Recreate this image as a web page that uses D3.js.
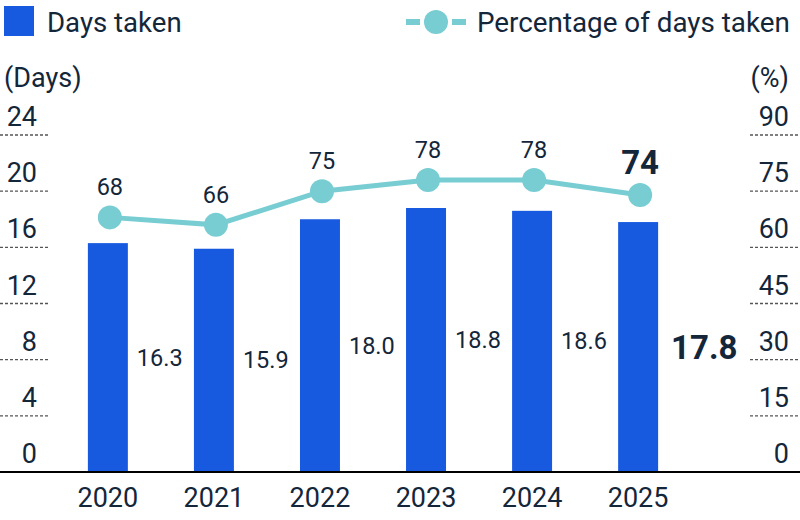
<!DOCTYPE html>
<html>
<head>
<meta charset="utf-8">
<script src="https://cdn.jsdelivr.net/npm/d3@7"></script>
<style>
  body { margin: 0; background: #fff; }
  text { font-family: Roboto, sans-serif; fill: #14263a; }
</style>
</head>
<body>
<div id="chart"></div>
<script>
const years = ["2020", "2021", "2022", "2023", "2024", "2025"];
const daysTaken = [16.3, 15.9, 18.0, 18.8, 18.6, 17.8];
const pctTaken = [68, 66, 75, 78, 78, 74];
const dayTicks = [0, 4, 8, 12, 16, 20, 24];
const pctTicks = [0, 15, 30, 45, 60, 75, 90];

const blue = "#175ae0";
const teal = "#78cdd3";

const width = 800, height = 520;
const baseY = 472, topY = 135;

const svg = d3.select("#chart").append("svg")
  .attr("width", width)
  .attr("height", height);

const x = d3.scaleBand().domain(years).range([55, 691]).paddingInner(0.623).paddingOuter(0.31);
const yL = d3.scaleLinear().domain([0, 24]).range([baseY, topY]);
const yR = d3.scaleLinear().domain([0, 90]).range([baseY, topY]);

// gridline stubs on both sides
dayTicks.filter(d => d > 0).forEach(d => {
  [[0, 50], [750, 800]].forEach(([a, b]) => {
    svg.append("line")
      .attr("x1", a).attr("x2", b)
      .attr("y1", yL(d)).attr("y2", yL(d))
      .attr("stroke", "#555")
      .attr("stroke-width", 1.3)
      .attr("stroke-dasharray", "3,2");
  });
});

// left axis labels
svg.append("g").selectAll("text").data(dayTicks).join("text")
  .attr("x", 37)
  .attr("y", d => yL(d) - 9)
  .attr("text-anchor", "end")
  .attr("font-size", 27)
  .text(d => d);

svg.append("text").attr("x", 4).attr("y", 87).attr("font-size", 27).text("(Days)");

// right axis labels
svg.append("g").selectAll("text").data(pctTicks).join("text")
  .attr("x", 789)
  .attr("y", d => yR(d) - 9)
  .attr("text-anchor", "end")
  .attr("font-size", 27)
  .text(d => d);

svg.append("text").attr("x", 789).attr("y", 87).attr("text-anchor", "end").attr("font-size", 27).text("(%)");

// bars
svg.append("g").selectAll("rect").data(years).join("rect")
  .attr("x", d => x(d))
  .attr("y", (d, i) => yL(daysTaken[i]))
  .attr("width", x.bandwidth())
  .attr("height", (d, i) => baseY - yL(daysTaken[i]))
  .attr("fill", blue);

// bar value labels
svg.append("g").selectAll("text").data(years).join("text")
  .attr("x", d => x(d) + x.bandwidth() + (d === "2025" ? 13 : 9))
  .attr("y", (d, i) => yL(daysTaken[i] / 2) + (d === "2025" ? 12 : 8))
  .attr("font-size", (d, i) => i === years.length - 1 ? 33 : 23.5)
  .attr("font-weight", (d, i) => i === years.length - 1 ? "bold" : "normal")
  .text((d, i) => daysTaken[i].toFixed(1));

// baseline
svg.append("line")
  .attr("x1", 0).attr("x2", 800)
  .attr("y1", baseY).attr("y2", baseY)
  .attr("stroke", "#000").attr("stroke-width", 2);

// year labels
svg.append("g").selectAll("text").data(years).join("text")
  .attr("x", d => x(d) + x.bandwidth() / 2)
  .attr("y", 507)
  .attr("text-anchor", "middle")
  .attr("font-size", 27)
  .text(d => d);

// line
const cx = d => x(d) + x.bandwidth() / 2 + 2;
const line = d3.line().x(d => cx(d)).y((d, i) => yR(pctTaken[i]));
svg.append("path")
  .datum(years)
  .attr("d", line)
  .attr("fill", "none")
  .attr("stroke", teal)
  .attr("stroke-width", 5);

svg.append("g").selectAll("circle").data(years).join("circle")
  .attr("cx", cx)
  .attr("cy", (d, i) => yR(pctTaken[i]))
  .attr("r", 12)
  .attr("fill", teal);

svg.append("g").selectAll("text").data(years).join("text")
  .attr("x", cx)
  .attr("y", (d, i) => yR(pctTaken[i]) - (i === years.length - 1 ? 21 : 22))
  .attr("text-anchor", "middle")
  .attr("font-size", (d, i) => i === years.length - 1 ? 33 : 23.5)
  .attr("font-weight", (d, i) => i === years.length - 1 ? "bold" : "normal")
  .text((d, i) => pctTaken[i]);

// legend
svg.append("rect").attr("x", 4).attr("y", 6).attr("width", 30).attr("height", 30).attr("fill", blue);
svg.append("text").attr("x", 47).attr("y", 32).attr("font-size", 27.6).text("Days taken");

svg.append("line").attr("x1", 406).attr("x2", 466).attr("y1", 22).attr("y2", 22)
  .attr("stroke", teal).attr("stroke-width", 6).attr("stroke-dasharray", "14,32,14");
svg.append("circle").attr("cx", 436).attr("cy", 22).attr("r", 12).attr("fill", teal);
svg.append("text").attr("x", 477).attr("y", 32).attr("font-size", 27.8).text("Percentage of days taken");
</script>
</body>
</html>
